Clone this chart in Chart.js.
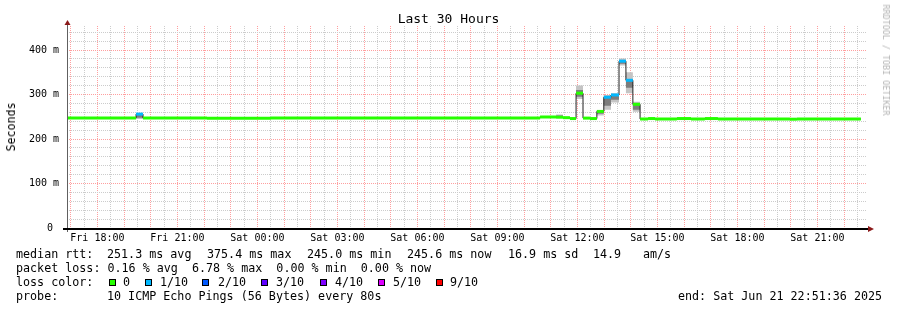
<!DOCTYPE html>
<html><head><meta charset="utf-8">
<script src="https://cdn.jsdelivr.net/npm/chart.js@4/dist/chart.umd.min.js"></script>
<style>
html,body{margin:0;padding:0;background:#fff;}
#wrap{position:relative;width:897px;height:310px;overflow:hidden;font-family:"DejaVu Sans Mono",monospace;color:#000;background:#fff;}
#c{position:absolute;left:0;top:0;}
.t{position:absolute;white-space:pre;font-size:11.7px;line-height:14px;height:14px;}
.box{position:absolute;width:5px;height:5px;border:1px solid #000;}
#title{position:absolute;left:0;width:897px;top:11px;text-align:center;font-size:13px;line-height:16px;}
#ylab{position:absolute;left:11px;top:127px;font-size:11.6px;transform:translate(-50%,-50%) rotate(-90deg);white-space:pre;}
#tag{position:absolute;left:886px;top:60px;font-size:8.4px;color:#b4b4b4;transform:translate(-50%,-50%) rotate(90deg);white-space:pre;}
</style></head>
<body><div id="wrap">
<canvas id="c" width="897" height="310"></canvas>
<div id="title">Last 30 Hours</div>
<div id="ylab">Seconds</div>
<div id="tag">RRDTOOL / TOBI OETIKER</div>
<div id="legend"></div>
</div>
<script>
// ---- time axis (hours counted from Fri 00:00) ----
const axisStartHour = 16.86;   // Fri 16:51:36
const axisEndHour   = 46.86;   // Sat 22:51:36
const dataEndHour   = 46.63;

// ---- median RTT segments (step data) ----
const segStartHour = [16.86,19.45,19.71,22.11,24.51,34.60,35.20,35.46,35.72,35.95,36.21,36.47,36.73,36.99,37.26,37.56,37.82,38.08,38.35,38.65,38.91,39.73,40.26,40.78,41.27,43.97,44.23];
const medianMs     = [247.0,256.0,247.0,246.5,247.0,249.5,249.0,248.0,246.0,303.0,247.0,246.0,262.0,294.0,299.0,375.0,332.0,278.0,245.0,246.0,245.0,246.0,245.0,246.0,245.0,244.5,245.0];
const lossClass    = [0,1,0,0,0,0,0,0,0,0,0,0,0,1,1,1,1,0,0,0,0,0,0,0,0,0,0];
// ---- smoke (ping spread) ----
const smokeMinMs   = [247.0,245.0,247.0,246.5,247.0,249.5,247.0,248.0,246.0,290.0,247.0,246.0,253.0,266.0,282.0,365.0,303.0,261.0,245.0,246.0,245.0,246.0,245.0,246.0,245.0,244.5,245.0];
const smokeQ1Ms    = [247.0,248.0,247.0,246.5,247.0,249.5,249.0,248.0,246.0,295.0,247.0,246.0,257.0,275.0,288.0,369.0,315.0,266.0,245.0,246.0,245.0,246.0,245.0,246.0,245.0,244.5,245.0];
const smokeQ3Ms    = [247.0,255.0,247.0,246.5,247.0,249.5,253.0,248.0,246.0,310.0,247.0,246.0,263.0,293.0,298.0,376.0,335.0,280.0,245.0,246.0,245.0,246.0,245.0,246.0,245.0,244.5,245.0];
const smokeMaxMs   = [247.0,258.0,247.0,246.5,247.0,249.5,255.0,248.0,246.0,320.0,247.0,246.0,265.0,299.0,303.0,381.0,350.0,284.0,245.0,246.0,245.0,246.0,245.0,246.0,245.0,244.5,245.0];

// ---- ticks ----
const xTickHours  = [18,21,24,27,30,33,36,39,42,45];
const xTickLabels = ['Fri 18:00','Fri 21:00','Sat 00:00','Sat 03:00','Sat 06:00','Sat 09:00','Sat 12:00','Sat 15:00','Sat 18:00','Sat 21:00'];
const yTickValues = [0,100,200,300,400];
const yTickLabels = ['0 ','100 m','200 m','300 m','400 m'];
const yMaxMs = 454;

// ---- legend ----
const lossColors = ['#26ff00','#00b8ff','#0059ff','#5e00ff','#7e00ff','#dd00ff','#ff0000'];
const lossLabels = ['0','1/10','2/10','3/10','4/10','5/10','9/10'];
const statRows = [
  [[16,'median rtt:'],[107,'251.3 ms avg'],[207,'375.4 ms max'],[307,'245.0 ms min'],[407,'245.6 ms now'],[508,'16.9 ms sd'],[593,'14.9'],[643,'am/s']],
  [[16,'packet loss: 0.16 % avg  6.78 % max  0.00 % min  0.00 % now']],
  [[16,'loss color:']],
  [[16,'probe:'],[107,'10 ICMP Echo Pings (56 Bytes) every 80s'],[678,'end: Sat Jun 21 22:51:36 2025']]
];
const legendBoxX = [109,145,202,261,320,378,436];
const legendTextX = [123,160,218,276,335,393,450];

// build text legend
(function(){
  const lg = document.getElementById('legend');
  statRows.forEach((row, r) => {
    row.forEach(([x, s]) => {
      const d = document.createElement('div');
      d.className = 't'; d.style.left = x + 'px'; d.style.top = (247 + r * 14) + 'px';
      d.textContent = s; lg.appendChild(d);
    });
  });
  lossLabels.forEach((l, i) => {
    const b = document.createElement('div');
    b.className = 'box'; b.style.left = legendBoxX[i] + 'px'; b.style.top = '279px';
    b.style.background = lossColors[i]; lg.appendChild(b);
    const d = document.createElement('div');
    d.className = 't'; d.style.left = legendTextX[i] + 'px'; d.style.top = (247 + 2 * 14) + 'px';
    d.textContent = l; lg.appendChild(d);
  });
})();

function stepSeries(arr) {
  const pts = segStartHour.map((h, i) => ({x: h, y: arr[i]}));
  pts.push({x: dataEndHour, y: arr[arr.length - 1]});
  return pts;
}
// colored median pieces, separated by gaps so that vertical jumps stay black
const coloredPts = [];
segStartHour.forEach((h, i) => {
  const end = i + 1 < segStartHour.length ? segStartHour[i + 1] : dataEndHour;
  coloredPts.push({x: h, y: medianMs[i]}, {x: end, y: medianMs[i]}, {x: end, y: null});
});

const axesPlugin = {
  id: 'axes',
  afterDatasetsDraw(chart) {
    const {ctx, chartArea: a} = chart;
    ctx.save();
    ctx.strokeStyle = '#606060'; ctx.lineWidth = 1;
    ctx.beginPath(); ctx.moveTo(a.left + 0.5, a.bottom + 4); ctx.lineTo(a.left + 0.5, a.top - 2); ctx.stroke();
    ctx.strokeStyle = '#000'; ctx.lineWidth = 2;
    ctx.beginPath(); ctx.moveTo(a.left - 4, a.bottom + 1); ctx.lineTo(a.right + 2, a.bottom + 1); ctx.stroke();
    ctx.fillStyle = '#8b1a1a';
    ctx.beginPath(); ctx.moveTo(a.left - 2.5, a.top - 1); ctx.lineTo(a.left + 3.5, a.top - 1); ctx.lineTo(a.left + 0.5, a.top - 6); ctx.closePath(); ctx.fill();
    ctx.beginPath(); ctx.moveTo(a.right + 1, a.bottom - 2); ctx.lineTo(a.right + 1, a.bottom + 4); ctx.lineTo(a.right + 7, a.bottom + 1); ctx.closePath(); ctx.fill();
    ctx.restore();
  }
};

const mono = '"DejaVu Sans Mono", monospace';
const noLine = 'rgba(0,0,0,0)';
new Chart(document.getElementById('c'), {
  type: 'line',
  data: {
    datasets: [
      { data: coloredPts, borderWidth: 3, pointRadius: 0, spanGaps: false, fill: false, order: 0,
        borderColor: lossColors[0],
        segment: { borderColor: c => lossColors[lossClass[Math.floor(c.p0DataIndex / 3)]] } },
      { data: stepSeries(medianMs), stepped: 'before', borderWidth: 1, borderColor: '#202020', pointRadius: 0, fill: false, order: 1 },
      { data: stepSeries(smokeQ3Ms), stepped: 'before', borderWidth: 0, borderColor: noLine, pointRadius: 0, fill: '+1', backgroundColor: '#7c7c7c', order: 2 },
      { data: stepSeries(smokeQ1Ms), stepped: 'before', borderWidth: 0, borderColor: noLine, pointRadius: 0, fill: false, order: 3 },
      { data: stepSeries(smokeMaxMs), stepped: 'before', borderWidth: 0, borderColor: noLine, pointRadius: 0, fill: '+1', backgroundColor: '#c4c4c4', order: 4 },
      { data: stepSeries(smokeMinMs), stepped: 'before', borderWidth: 0, borderColor: noLine, pointRadius: 0, fill: false, order: 5 }
    ]
  },
  options: {
    responsive: false, animation: false, events: [],
    layout: { padding: { top: 26, right: 30, left: 0, bottom: 0 } },
    plugins: { legend: { display: false }, tooltip: { enabled: false }, title: { display: false } },
    scales: {
      x: {
        type: 'linear', min: axisStartHour, max: axisEndHour,
        afterBuildTicks: s => { const t = []; for (let h = 17; h <= 46.5; h += 0.5) t.push({value: h}); s.ticks = t; },
        afterFit: s => { s.height = 82; },
        ticks: { autoSkip: false, maxRotation: 0, minRotation: 0, padding: 4, color: '#000', font: { family: mono, size: 10 },
          callback: v => { const i = xTickHours.indexOf(v); return i >= 0 ? xTickLabels[i] : ''; } },
        grid: { drawTicks: false, lineWidth: 1, color: c => (c.tick && Number.isInteger(c.tick.value)) ? '#ff9f9f' : '#cccccc' },
        border: { display: false, dash: [1, 1] }
      },
      y: {
        type: 'linear', min: 0, max: yMaxMs,
        afterBuildTicks: s => { const t = []; for (let v = 0; v <= 440; v += 20) t.push({value: v}); s.ticks = t; },
        afterFit: s => { s.width = 67; },
        ticks: { autoSkip: false, padding: 8, color: '#000', font: { family: mono, size: 10 },
          callback: v => { const i = yTickValues.indexOf(v); return i >= 0 ? yTickLabels[i] : ''; } },
        grid: { drawTicks: false, lineWidth: 1, color: c => (c.tick && c.tick.value % 100 === 0) ? '#ff9f9f' : '#cccccc' },
        border: { display: false, dash: [1, 1] }
      }
    }
  },
  plugins: [axesPlugin]
});
</script>
</body></html>
